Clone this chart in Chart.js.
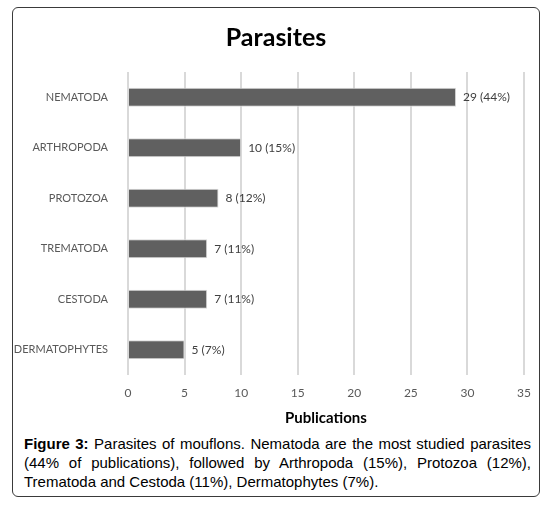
<!DOCTYPE html>
<html>
<head>
<meta charset="utf-8">
<script src="https://cdn.jsdelivr.net/npm/chart.js@4"></script>
<style>
  body { margin: 0; background: #fff; }
  #box {
    position: absolute; left: 12px; top: 7px; width: 526px; height: 488px;
    border: 1px solid #3a3a3a; border-radius: 6px;
  }
  #wrap { position: absolute; left: 0; top: 0; width: 526px; height: 420px; }
  #caption {
    position: absolute; left: 11px; top: 426px; width: 507px;
    font-family: "Liberation Sans", Arial, sans-serif; font-size: 15px;
    line-height: 19px; text-align: justify; color: #000;
  }
</style>
</head>
<body>
<div id="box">
  <div id="wrap"><canvas id="grafico"></canvas></div>
  <div id="caption"><b>Figure 3:</b> Parasites of mouflons. Nematoda are the most studied parasites (44% of publications), followed by Arthropoda (15%), Protozoa (12%), Trematoda and Cestoda (11%), Dermatophytes (7%).</div>
</div>
<script>
// dados
var categorias = ['NEMATODA', 'ARTHROPODA', 'PROTOZOA', 'TREMATODA', 'CESTODA', 'DERMATOPHYTES'];
var publicacoes = [29, 10, 8, 7, 7, 5];
var percentuais = [44, 15, 12, 11, 11, 7];
var ticksX = [0, 5, 10, 15, 20, 25, 30, 35];

var fonte = 'Lato, "Open Sans", sans-serif';

// rotulos "29 (44%)" depois de cada barra
var rotulos = {
    id: 'rotulos',
    afterDatasetsDraw: function(chart) {
        var ctx = chart.ctx;
        var meta = chart.getDatasetMeta(0);
        ctx.save();
        ctx.font = '12px ' + fonte;
        ctx.fillStyle = '#404040';
        ctx.textAlign = 'left';
        ctx.textBaseline = 'middle';
        meta.data.forEach(function(bar, i) {
            ctx.fillText(publicacoes[i] + ' (' + percentuais[i] + '%)', bar.x + 7, bar.y);
        });
        ctx.restore();
    }
};

var ctx1 = document.getElementById('grafico').getContext('2d');
var meuGrafico = new Chart(ctx1, {
    type: 'bar',
    data: {
        labels: categorias,
        datasets: [{
            label: 'Publications',
            data: publicacoes,
            backgroundColor: '#606060',
            borderColor: '#d9d9d9',
            borderWidth: 1,
            categoryPercentage: 0.7,
            barPercentage: 0.54
        }]
    },
    plugins: [rotulos],
    options: {
        indexAxis: 'y',
        responsive: true,
        maintainAspectRatio: false,
        animation: false,
        layout: { padding: { left: 0, right: 0, top: 11, bottom: 2 } },
        plugins: {
            legend: { display: false },
            tooltip: { enabled: false },
            title: {
                display: true,
                text: 'Parasites',
                color: '#000',
                font: { family: fonte, size: 25, weight: 'bold' },
                padding: { top: 4, bottom: 19 }
            }
        },
        scales: {
            x: {
                min: 0,
                max: 35,
                afterBuildTicks: function(axis) {
                    axis.ticks = ticksX.map(function(v) { return { value: v }; });
                },
                afterFit: function(axis) { axis.paddingLeft = 0; axis.paddingRight = 15; },
                grid: { color: '#d9d9d9', lineWidth: 2, drawTicks: false },
                border: { display: false },
                ticks: { color: '#595959', font: { family: fonte, size: 12, lineHeight: 1 }, padding: 12 },
                title: {
                    display: true,
                    text: 'Publications',
                    color: '#000',
                    font: { family: fonte, size: 15, weight: 'bold', lineHeight: 1 },
                    padding: { top: 0, bottom: 0 }
                }
            },
            y: {
                afterFit: function(axis) { axis.width = 115; },
                grid: { display: false },
                border: { display: false },
                ticks: { color: '#595959', font: { family: fonte, size: 11 }, padding: 12 }
            }
        }
    }
});
</script>
</body>
</html>
